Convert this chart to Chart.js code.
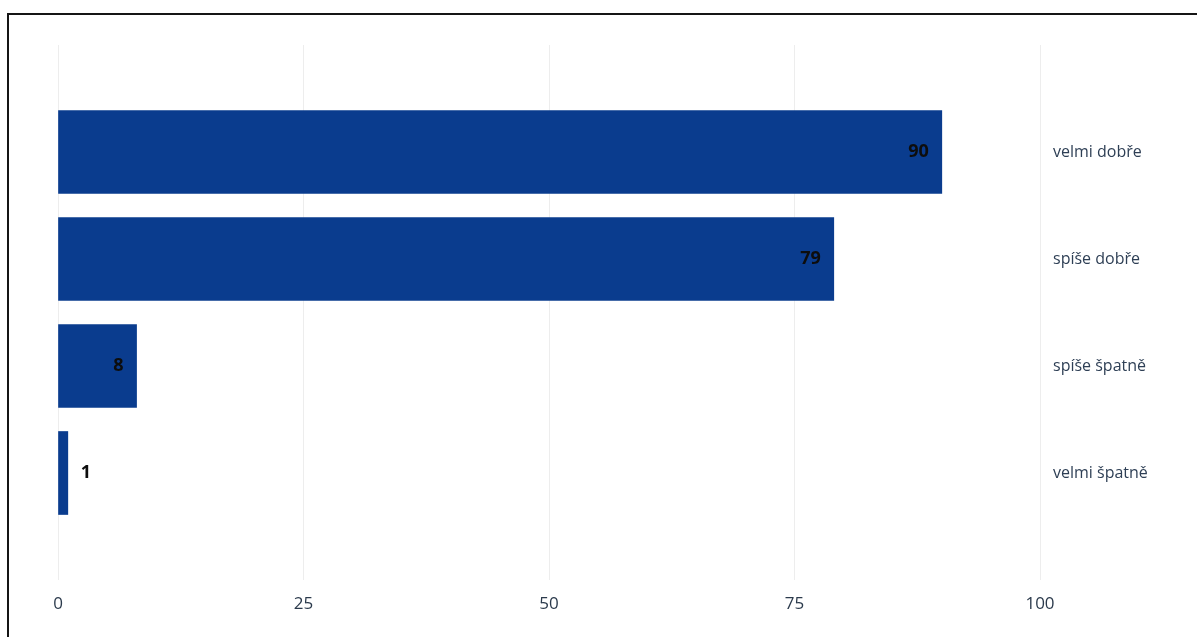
<!DOCTYPE html>
<html>
<head>
<meta charset="utf-8">
<script src="https://cdn.jsdelivr.net/npm/chart.js@4.4.1/dist/chart.umd.min.js"></script>
<style>
    html, body { margin: 0; padding: 0; background: #fff; overflow: hidden; }
    #ramecek { position: absolute; left: 7px; top: 13px; width: 1300px; height: 800px; border: 2px solid #151515; }
    #obal { position: absolute; left: 0; top: 0; width: 1197px; height: 637px; }
</style>
</head>
<body>
<div id="ramecek"></div>
<div id="obal"><canvas id="graf" width="1197" height="637"></canvas></div>
<script>
// Data grafu
const kategorie = ["velmi dobře", "spíše dobře", "spíše špatně", "velmi špatně"];
const hodnoty = [90, 79, 8, 1];
const osaX = [0, 25, 50, 75, 100];

// Prázdné kategorie nahoře a dole kvůli odsazení
const popisky = ["", ...kategorie, ""];
const data = [null, ...hodnoty, null];

// Popisky hodnot u konce sloupců
const hodnotyPlugin = {
    id: "hodnoty",
    afterDatasetsDraw(chart) {
        const ctx = chart.ctx;
        const meta = chart.getDatasetMeta(0);
        ctx.save();
        ctx.font = "bold 18px 'Open Sans', sans-serif";
        ctx.fillStyle = "#0d0d0d";
        ctx.textBaseline = "middle";
        meta.data.forEach((bar, i) => {
            const v = data[i];
            if (v === null) return;
            const sirka = bar.x - bar.base;
            if (sirka > 40) {
                ctx.textAlign = "right";
                ctx.fillText(String(v), bar.x - 13, bar.y);
            } else {
                ctx.textAlign = "left";
                ctx.fillText(String(v), bar.x + 13, bar.y);
            }
        });
        ctx.restore();
    }
};

const chart = new Chart(document.getElementById("graf").getContext("2d"), {
    type: "bar",
    data: {
        labels: popisky,
        datasets: [{
            data: data,
            backgroundColor: "#0a3c8e",
            borderWidth: 0,
            barThickness: 83
        }]
    },
    options: {
        indexAxis: "y",
        responsive: false,
        animation: false,
        layout: { padding: { left: 58, top: 45, right: 0, bottom: 0 } },
        plugins: {
            legend: { display: false },
            tooltip: { enabled: false }
        },
        scales: {
            x: {
                min: 0,
                max: 100,
                afterBuildTicks: (scale) => {
                    scale.ticks = osaX.map((v) => ({ value: v }));
                },
                afterFit: (scale) => { scale.height = 57; },
                border: { display: false },
                grid: { color: "rgba(0,0,0,0.07)", drawTicks: false },
                ticks: {
                    padding: 14,
                    color: "#2b3a4c",
                    font: { family: "'Open Sans', sans-serif", size: 17 }
                }
            },
            y: {
                position: "right",
                offset: false,
                afterFit: (scale) => { scale.width = 157; },
                border: { display: false },
                grid: { display: false, drawTicks: false },
                ticks: {
                    padding: 13,
                    color: "#2e3f55",
                    font: { family: "'Open Sans', sans-serif", size: 16 }
                }
            }
        }
    },
    plugins: [hodnotyPlugin]
});
</script>
</body>
</html>
